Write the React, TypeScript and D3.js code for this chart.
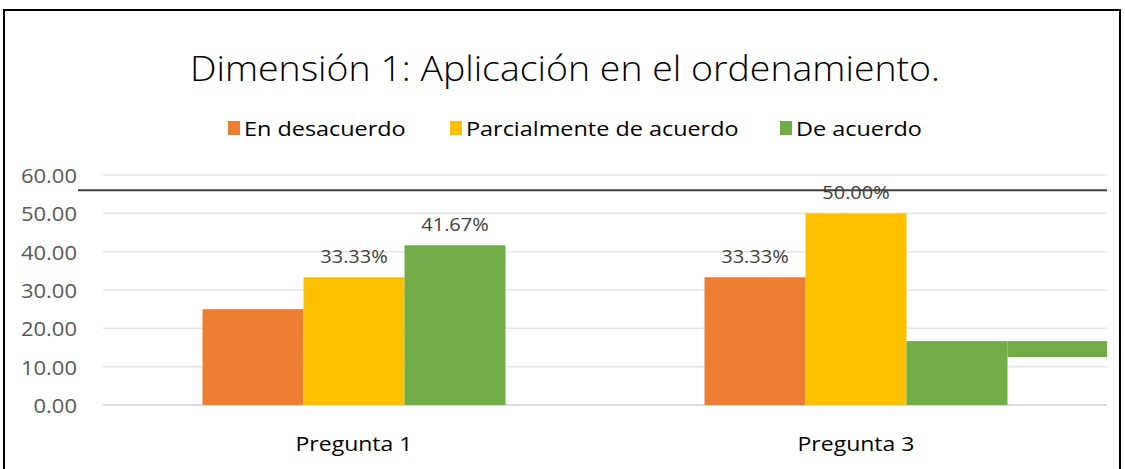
import React, { useEffect, useRef } from 'react';
import * as d3 from 'd3';

const title = 'Dimensión 1: Aplicación en el ordenamiento.';
const categories = ['Pregunta 1', 'Pregunta 3'];
const seriesNames = ['En desacuerdo', 'Parcialmente de acuerdo', 'De acuerdo'];
const seriesColors = ['#ED7D31', '#FFC000', '#70AD47'];
const enDesacuerdo = [25.0, 33.33];
const parcialmente = [33.33, 50.0];
const deAcuerdo = [41.67, 16.67];
const showLabel = [[false, true], [true, true], [true, false]];
const yTicks = [0, 10, 20, 30, 40, 50, 60];
const refLine = 56;

const W = 1125;
const H = 469;

// widen text horizontally, the source picture is stretched
const stretch = (sel: any, f: number) => {
  sel.each(function (this: SVGTextElement) {
    const len = this.getComputedTextLength();
    d3.select(this).attr('textLength', len * f).attr('lengthAdjust', 'spacingAndGlyphs');
  });
};

const App = () => {
  const ref = useRef<SVGSVGElement>(null);

  useEffect(() => {
    const svg = d3.select(ref.current);
    svg.selectAll('*').remove();
    const font = "'Open Sans', 'Liberation Sans', sans-serif";
    const series = [enDesacuerdo, parcialmente, deAcuerdo];

    const left = 103, right = 1107, top = 175, bottom = 405;

    svg.append('rect')
      .attr('x', 4).attr('y', 10)
      .attr('width', 1116).attr('height', 480)
      .attr('fill', 'white').attr('stroke', '#000').attr('stroke-width', 2);

    const t = svg.append('text')
      .attr('x', 565).attr('y', 81)
      .attr('text-anchor', 'middle')
      .style('font-family', font).style('font-weight', 300)
      .style('font-size', '35px').style('fill', '#000')
      .text(title);
    stretch(t, 1.07);

    // legend
    const legendX = [228, 450, 780];
    seriesNames.forEach((name, i) => {
      svg.append('rect')
        .attr('x', legendX[i]).attr('y', 121)
        .attr('width', 12).attr('height', 14)
        .attr('fill', seriesColors[i]);
      const lt = svg.append('text')
        .attr('x', legendX[i] + 16).attr('y', 136)
        .style('font-family', font).style('font-size', '20px').style('fill', '#000')
        .text(name);
      stretch(lt, 1.17);
    });

    const y = d3.scaleLinear().domain([0, 60]).range([bottom, top]);
    const x0 = d3.scaleBand().domain(categories).range([left, right]).paddingInner(0).paddingOuter(0);
    const x1 = d3.scaleBand().domain(seriesNames).range([0, x0.bandwidth()]).paddingOuter(0.985).paddingInner(0);

    // gridlines
    svg.append('g').selectAll('line')
      .data(yTicks)
      .enter().append('line')
      .attr('x1', left).attr('x2', right)
      .attr('y1', d => y(d)).attr('y2', d => y(d))
      .attr('stroke', d => d === 0 ? '#d0d0d0' : '#e6e6e6')
      .attr('stroke-width', 1.5);

    const yl = svg.append('g').selectAll('text')
      .data(yTicks)
      .enter().append('text')
      .attr('x', 77).attr('y', d => y(d) + 8)
      .attr('text-anchor', 'end')
      .style('font-family', font).style('font-size', '20px').style('fill', '#595959')
      .text(d => d.toFixed(2));
    stretch(yl, 1.1);

    // bars
    series.forEach((vals, si) => {
      svg.append('g').selectAll('rect')
        .data(vals)
        .enter().append('rect')
        .attr('x', (d, ci) => x0(categories[ci])! + x1(seriesNames[si])!)
        .attr('y', d => y(d))
        .attr('width', x1.bandwidth())
        .attr('height', d => bottom - y(d))
        .attr('fill', seriesColors[si]);

      const labelled = vals.map((v, ci) => ({ v, ci })).filter(o => showLabel[si][o.ci]);
      const dl = svg.append('g').selectAll('text')
        .data(labelled)
        .enter().append('text')
        .attr('x', o => x0(categories[o.ci])! + x1(seriesNames[si])! + x1.bandwidth() / 2)
        .attr('y', o => y(o.v) - 14)
        .attr('text-anchor', 'middle')
        .style('font-family', font).style('font-size', '19px').style('fill', '#404040')
        .text(o => o.v.toFixed(2) + '%');
      stretch(dl, 1.05);
    });

    // stray green strip to the right of the last bar
    const lastX = x0(categories[1])! + x1(seriesNames[2])! + x1.bandwidth();
    svg.append('rect')
      .attr('x', lastX).attr('y', y(deAcuerdo[1]))
      .attr('width', right - lastX).attr('height', y(12.5) - y(deAcuerdo[1]))
      .attr('fill', seriesColors[2]);

    svg.append('line')
      .attr('x1', 78).attr('x2', right)
      .attr('y1', y(refLine)).attr('y2', y(refLine))
      .attr('stroke', '#404040').attr('stroke-width', 2);

    const cl = svg.append('g').selectAll('text')
      .data(categories)
      .enter().append('text')
      .attr('x', d => x0(d)! + x0.bandwidth() / 2)
      .attr('y', 451)
      .attr('text-anchor', 'middle')
      .style('font-family', font).style('font-size', '20px').style('fill', '#000')
      .text(d => d);
    stretch(cl, 1.15);
  }, []);

  return (
    <svg ref={ref} width={W} height={H} style={{ position: 'absolute', left: 0, top: 0, background: 'white' }} />
  );
};

export default App;
